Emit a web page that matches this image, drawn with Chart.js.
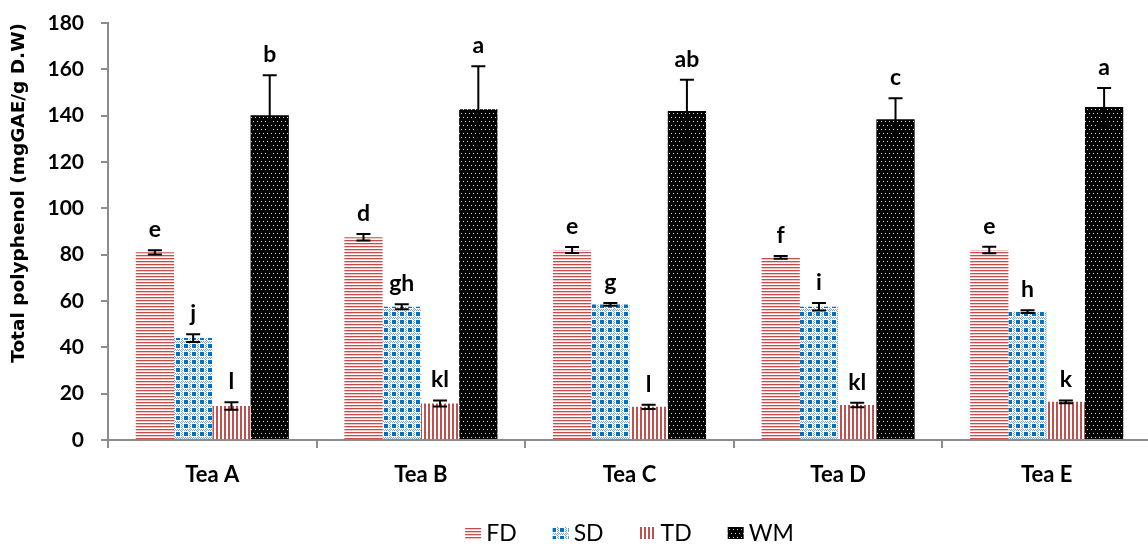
<!DOCTYPE html>
<html>
<head>
<meta charset="utf-8">
<script src="https://cdn.jsdelivr.net/npm/chart.js@4.4.1/dist/chart.umd.min.js"></script>
<style>
  html, body { margin: 0; padding: 0; background: #fff; overflow: hidden; }
  #wrap { position: relative; width: 1156px; height: 548px; }
</style>
</head>
<body>
<div id="wrap"><canvas id="chart"></canvas></div>
<script>
// Total polyphenol per tea and drying method

const categories = ['Tea A', 'Tea B', 'Tea C', 'Tea D', 'Tea E'];
const seriesNames = ['FD', 'SD', 'TD', 'WM'];

const fdValues = [81, 87.5, 82, 78.8, 82];
const sdValues = [44, 57.5, 58.5, 57.5, 55.4];
const tdValues = [14.7, 15.8, 14.3, 15.1, 16.5];
const wmValues = [140.2, 142.8, 142, 138.5, 143.7];

const fdErrors = [0.9, 1.4, 1.3, 0.6, 1.4];
const sdErrors = [1.7, 1.1, 0.6, 1.6, 0.6];
const tdErrors = [1.6, 1.3, 0.9, 1.0, 0.6];
const wmErrors = [17.3, 18.5, 13.5, 9, 8.2];

const fdLetters = ['e', 'd', 'e', 'f', 'e'];
const sdLetters = ['j', 'gh', 'g', 'i', 'h'];
const tdLetters = ['l', 'kl', 'l', 'kl', 'k'];
const wmLetters = ['b', 'a', 'ab', 'c', 'a'];

const yTicks = [0, 20, 40, 60, 80, 100, 120, 140, 160, 180];

const RED = '#c0504d';
const BLUE = '#0070c0';

/**
 * Builds a small tile canvas and returns it as a repeating pattern.
 */
function makePattern(w, h, draw) {
  const c = document.createElement('canvas');
  c.width = w;
  c.height = h;
  const g = c.getContext('2d');
  draw(g);
  return g.createPattern(c, 'repeat');
}

const hStripes = makePattern(4, 3, g => {
  g.fillStyle = '#fff'; g.fillRect(0, 0, 4, 3);
  g.fillStyle = RED; g.fillRect(0, 0, 4, 1);
  g.fillStyle = '#f0c4c3'; g.fillRect(0, 1, 4, 1);
});

const vStripes = makePattern(4, 4, g => {
  g.fillStyle = '#fff'; g.fillRect(0, 0, 4, 4);
  g.fillStyle = RED; g.fillRect(0, 0, 2, 4);
});

const checks = makePattern(8, 8, g => {
  g.fillStyle = '#fff'; g.fillRect(0, 0, 8, 8);
  g.fillStyle = '#6aa8dc';
  for (let x = 0; x < 8; x++) {
    for (let y = 0; y < 8; y++) {
      if ((x + y) % 2 === 0 && (x === 5 || x === 6 || y === 5 || y === 6)) g.fillRect(x, y, 1, 1);
    }
  }
  g.fillStyle = BLUE; g.fillRect(0, 0, 4, 4);
});

const dots = makePattern(4, 8, g => {
  g.fillStyle = '#000'; g.fillRect(0, 0, 4, 8);
  g.fillStyle = 'rgba(255,255,255,0.85)';
  g.fillRect(1, 1, 1, 1);
  g.fillRect(3, 5, 1, 1);
});

const errorSets = [fdErrors, sdErrors, tdErrors, wmErrors];
const letterSets = [fdLetters, sdLetters, tdLetters, wmLetters];

const errorBarPlugin = {
  id: 'errorBars',
  afterDatasetsDraw(chart) {
    const { ctx } = chart;
    const y = chart.scales.y;
    ctx.save();
    chart.data.datasets.forEach((ds, i) => {
      const meta = chart.getDatasetMeta(i);
      meta.data.forEach((bar, j) => {
        const v = ds.data[j];
        const e = errorSets[i][j];
        const top = y.getPixelForValue(v + e);
        const bot = y.getPixelForValue(v - e);
        ctx.strokeStyle = '#000';
        ctx.lineWidth = 2;
        ctx.beginPath();
        ctx.moveTo(bar.x, top); ctx.lineTo(bar.x, bot);
        ctx.moveTo(bar.x - 7, top); ctx.lineTo(bar.x + 7, top);
        ctx.moveTo(bar.x - 7, bot); ctx.lineTo(bar.x + 7, bot);
        ctx.stroke();

        ctx.fillStyle = '#000';
        ctx.font = 'bold 23px Lato';
        ctx.textAlign = 'center';
        ctx.textBaseline = 'alphabetic';
        ctx.fillText(letterSets[i][j], bar.x, top - 13);
      });
    });
    ctx.restore();
  }
};

// legend drawn under the plot, centred on the plot area
const legendPlugin = {
  id: 'bottomLegend',
  afterDraw(chart) {
    const { ctx, chartArea } = chart;
    const cy = 533;
    ctx.save();
    ctx.font = '23px Lato';
    ctx.textBaseline = 'middle';
    ctx.textAlign = 'left';
    const items = chart.data.datasets.map(ds => ({
      label: ds.label,
      fill: ds.backgroundColor,
      w: ctx.measureText(ds.label).width
    }));
    const box = 16, gap = 5, spacing = 36;
    const total = items.reduce((s, it) => s + box + gap + it.w, 0) + spacing * (items.length - 1);
    let x = (chartArea.left + chartArea.right) / 2 - total / 2;
    items.forEach(it => {
      ctx.fillStyle = it.fill;
      ctx.fillRect(x, cy - 6, box, 12);
      ctx.fillStyle = '#000';
      ctx.fillText(it.label, x + box + gap, cy + 1);
      x += box + gap + it.w + spacing;
    });
    ctx.restore();
  }
};

const fills = [hStripes, checks, vStripes, dots];
const valueSets = [fdValues, sdValues, tdValues, wmValues];

new Chart(document.getElementById('chart'), {
  type: 'bar',
  data: {
    labels: categories,
    datasets: seriesNames.map((name, i) => ({
      label: name,
      data: valueSets[i],
      backgroundColor: fills[i],
      borderWidth: 0,
      categoryPercentage: 0.734,
      barPercentage: 1
    }))
  },
  options: {
    responsive: true,
    maintainAspectRatio: false,
    animation: false,
    layout: { padding: { top: 23, right: 5, left: 0, bottom: 0 } },
    plugins: {
      tooltip: { enabled: false },
      legend: { display: false }
    },
    scales: {
      x: {
        afterFit: s => { s.height = 108; },
        grid: {
          offset: true,
          drawOnChartArea: false,
          tickLength: 8,
          color: '#8c8c8c',
          lineWidth: 2
        },
        border: { color: '#8c8c8c', width: 2 },
        ticks: {
          color: '#000',
          padding: 14,
          font: { family: 'Lato', size: 22, weight: 'bold' }
        }
      },
      y: {
        min: 0,
        max: 180,
        afterFit: s => { s.width = 108; s.paddingTop = 0; s.paddingBottom = 0; },
        afterBuildTicks: s => { s.ticks = yTicks.map(v => ({ value: v })); },
        grid: {
          drawOnChartArea: false,
          tickLength: 7,
          color: '#8c8c8c',
          lineWidth: 2
        },
        border: { color: '#8c8c8c', width: 2 },
        ticks: {
          color: '#000',
          padding: 17,
          font: { family: 'Lato', size: 21, weight: 'bold' }
        },
        title: {
          display: true,
          align: 'end',
          text: 'Total polyphenol (mgGAE/g D.W)',
          color: '#000',
          padding: { top: 8, bottom: 0 },
          font: { family: 'DejaVu Sans', size: 18.5, weight: 'bold' }
        }
      }
    }
  },
  plugins: [errorBarPlugin, legendPlugin]
});
</script>
</body>
</html>
